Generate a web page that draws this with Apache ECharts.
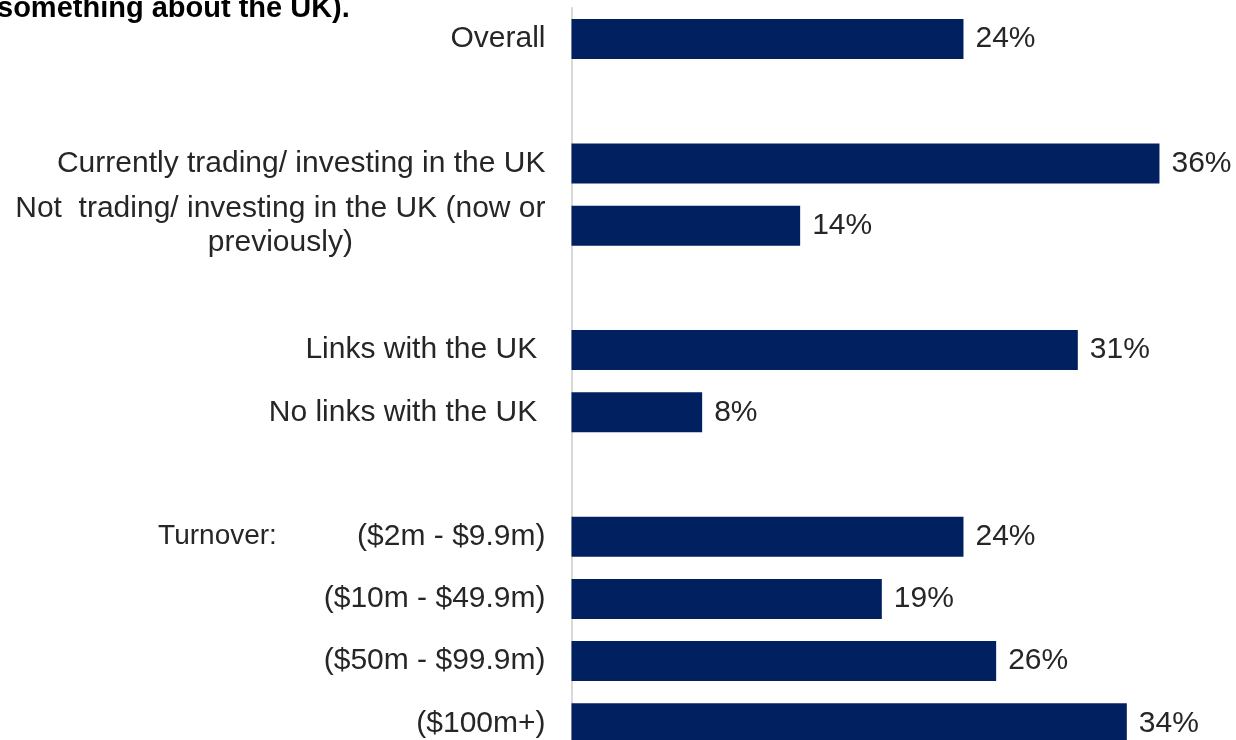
<!DOCTYPE html>
<html>
<head>
<meta charset="utf-8">
<title>Bar chart</title>
<script src="https://cdn.jsdelivr.net/npm/echarts@6/dist/echarts.min.js"></script>
<style>
  html, body { margin: 0; padding: 0; background: #ffffff; }
  #chart { width: 1236px; height: 740px; }
</style>
</head>
<body>
<div id="chart"></div>
<script>
// Row labels, top to bottom; whitespace-only entries are spacer rows between groups
const categories = [
  'Overall',
  ' ',
  'Currently trading/ investing in the UK',
  'Not  trading/ investing in the UK (now or\npreviously)',
  '  ',
  'Links with the UK ',
  'No links with the UK ',
  '   ',
  '($2m - $9.9m)',
  '($10m - $49.9m)',
  '($50m - $99.9m)',
  '($100m+)'
];
// Share of respondents (%) per row; null for spacer rows
const values = [24, null, 36, 14, null, 31, 8, null, 24, 19, 26, 34];
// Group heading shown in front of the first turnover band
const groupPrefix = { '($2m - $9.9m)': 'Turnover:' };
const titleText = 'something about the UK).';

const TEXT = '#262626';
const BAR = '#002060';
const FONT = '"Liberation Sans", Arial, sans-serif';

const chart = echarts.init(document.getElementById('chart'), null, { renderer: 'canvas' });

chart.setOption({
  animation: false,
  backgroundColor: '#ffffff',
  textStyle: { fontFamily: FONT },
  graphic: [{
    type: 'text',
    left: -3,
    top: -6,
    style: {
      text: titleText,
      font: 'bold 29px ' + FONT,
      fill: '#000000'
    }
  }],
  // plot area runs past the bottom edge so the last bar is clipped by the canvas
  grid: {
    left: 571.5, top: 8, width: 653.3, height: 746.4,
    containLabel: false,
    outerBoundsMode: 'none'
  },
  xAxis: {
    type: 'value',
    min: 0,
    max: 40,
    show: false
  },
  yAxis: {
    type: 'category',
    inverse: true,
    data: categories,
    axisLine: { show: true, lineStyle: { color: '#d9d9d9', width: 2 } },
    axisTick: { show: false },
    splitLine: { show: false },
    axisLabel: {
      margin: 26,
      fontSize: 30,
      color: TEXT,
      fontFamily: FONT,
      align: 'right',
      interval: 0,
      formatter: function (value) {
        if (!value.trim()) return '';
        if (groupPrefix[value]) {
          return '{t|' + groupPrefix[value] + '}{v|' + value + '}';
        }
        if (value.indexOf('\n') >= 0) {
          return '{c|' + value + '}';
        }
        return '{v|' + value + '}';
      },
      rich: {
        v: { fontSize: 30, color: TEXT, fontFamily: FONT },
        c: { fontSize: 30, color: TEXT, fontFamily: FONT, align: 'center', lineHeight: 34 },
        t: { fontSize: 28, color: TEXT, fontFamily: FONT, width: 199, align: 'left' }
      }
    }
  },
  series: [{
    type: 'bar',
    data: values,
    barWidth: 40,
    itemStyle: { color: BAR },
    label: {
      show: true,
      position: 'right',
      distance: 12,
      fontSize: 30,
      color: TEXT,
      fontFamily: FONT,
      formatter: '{c}%'
    }
  }]
});
</script>
</body>
</html>
